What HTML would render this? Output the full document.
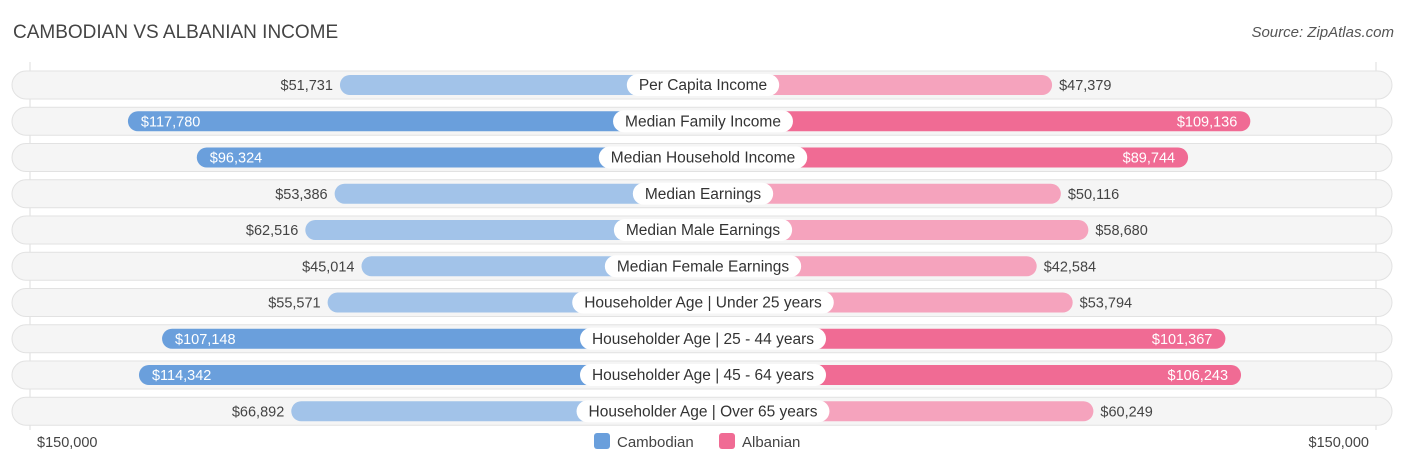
<!DOCTYPE html>
<html><head><meta charset="utf-8">
<style>
body{margin:0;width:1406px;height:467px;background:#fff;font-family:"Liberation Sans",sans-serif;position:relative;overflow:hidden}
.t{position:absolute;white-space:nowrap}
</style></head><body>
<div class="t" style="left:13px;top:22px;font-size:19px;color:#444">CAMBODIAN VS ALBANIAN INCOME</div>
<div class="t" style="right:12px;top:24px;font-size:15px;color:#555;font-style:italic">Source: ZipAtlas.com</div>
<svg id="chart" width="1406" height="467" style="position:absolute;left:0;top:0"></svg>
<script>
const categories=["Per Capita Income","Median Family Income","Median Household Income","Median Earnings","Median Male Earnings","Median Female Earnings","Householder Age | Under 25 years","Householder Age | 25 - 44 years","Householder Age | 45 - 64 years","Householder Age | Over 65 years"];
const cambodian=[51731,117780,96324,53386,62516,45014,55571,107148,114342,66892];
const albanian=[47379,109136,89744,50116,58680,42584,53794,101367,106243,60249];
const axisLabels=["$150,000","$150,000"];
const svg=document.getElementById('chart');
const NS="http://www.w3.org/2000/svg";
const cx=703, base=197, k=3.21/1000;
function len(v){return base+k*v;}
function rowY(i){return 85+i*36.25;}
function mk(tag,attrs,parent){const e=document.createElementNS(NS,tag);for(const a in attrs)e.setAttribute(a,attrs[a]);(parent||svg).appendChild(e);return e;}
const fmt=v=>"$"+v.toLocaleString("en-US");
const grid=mk('line',{x1:30,x2:30,y1:62,y2:430,stroke:'#ddd'});


const grid2=mk('line',{x1:1376,x2:1376,y1:62,y2:430,stroke:'#ddd'});


categories.forEach((c,i)=>{
  const y=rowY(i);
  const g=mk('g',{});
  
  
  const bg=mk('rect',{x:12,y:y-14,width:1380,height:28,rx:14,fill:'#f5f5f5',stroke:'#e2e2e2'},g);
  
  
  const lv=cambodian[i], rv=albanian[i];
  const strongL=lv>90000, strongR=rv>85000;
  const lw=len(lv), rw=len(rv);
  const lb=mk('rect',{x:cx-lw,y:y-10,width:lw,height:20,rx:10,fill:strongL?'#6a9fdc':'#a2c3e9'},g);
  
  
  const rb=mk('rect',{x:cx,y:y-10,width:rw,height:20,rx:10,fill:strongR?'#f06b94':'#f5a3bd'},g);
  
  
  const lt=mk('text',{y:y+5,'font-size':14.5,fill:strongL?'#fff':'#444'},g);
  if(strongL){lt.setAttribute('x',cx-lw+13);}else{lt.setAttribute('x',cx-lw-7);lt.setAttribute('text-anchor','end');}
  lt.textContent=fmt(lv);
  
  
  const rt=mk('text',{y:y+5,'font-size':14.5,fill:strongR?'#fff':'#444'},g);
  if(strongR){rt.setAttribute('x',cx+rw-13);rt.setAttribute('text-anchor','end');}else{rt.setAttribute('x',cx+rw+7);}
  rt.textContent=fmt(rv);
  
  
  const lab=mk('text',{x:cx,y:y+5,'font-size':15.5,fill:'#333','text-anchor':'middle'},g);
  lab.textContent=c;
  const w=lab.getComputedTextLength()+24;
  const pill=mk('rect',{x:cx-w/2,y:y-11,width:w,height:22,rx:11,fill:'#fff'},g);
  
  
  g.appendChild(lab);
  
  
});
const a1=mk('text',{x:37,y:447,'font-size':14.5,fill:'#444'});a1.textContent=axisLabels[0];


const a2=mk('text',{x:1369,y:447,'font-size':14.5,fill:'#444','text-anchor':'end'});a2.textContent=axisLabels[1];


const s1=mk('rect',{x:594,y:433,width:16,height:16,rx:3,fill:'#6a9fdc'});


const l1=mk('text',{x:617,y:447,'font-size':15,fill:'#444'});l1.textContent='Cambodian';


const s2=mk('rect',{x:719,y:433,width:16,height:16,rx:3,fill:'#f06b94'});


const l2=mk('text',{x:742,y:447,'font-size':15,fill:'#444'});l2.textContent='Albanian';


</script>
</body></html>
